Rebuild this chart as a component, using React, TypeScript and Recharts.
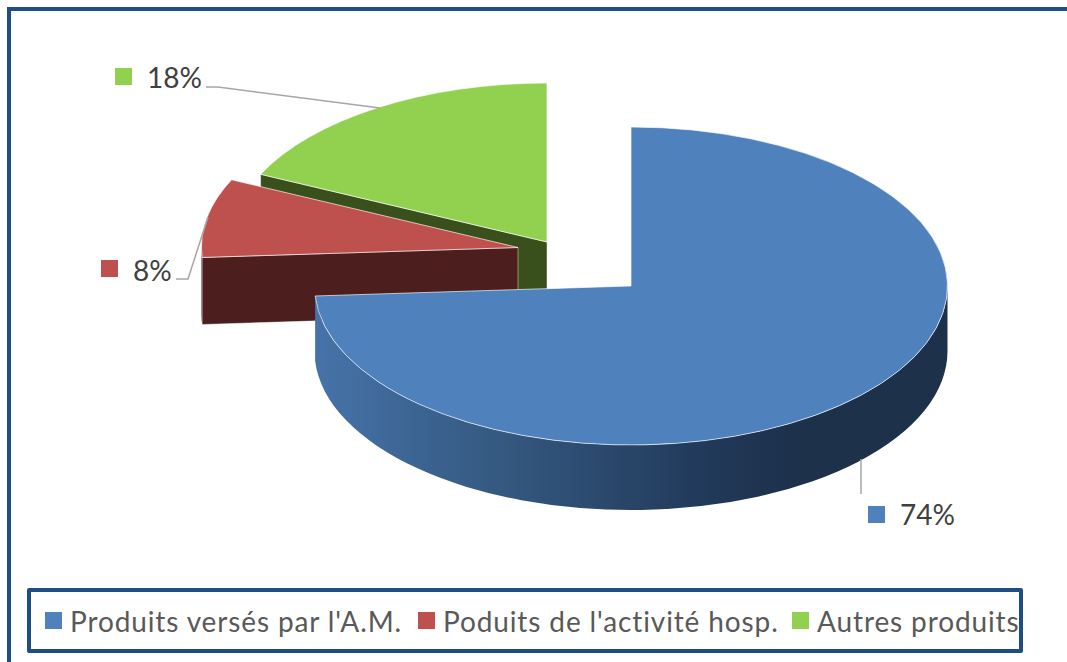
import React from "react";
import { PieChart, Pie, Legend } from "recharts";

const categories = ["Autres produits", "Poduits de l'activité hosp.", "Produits versés par l'A.M."];
const shares = [18, 8, 74];
const colors = ["#92D050", "#BE504D", "#4F81BD"];
const wallColors = ["#3A501C", "#4D1E1E", "url(#blueWall)"];

const rows = categories.map((name, i) => ({ name, value: shares[i], fill: colors[i] }));

const CX = 631, CY = 286, RX = 316.5, RY = 159;
const FRAME = "#1F4E85";
const FONT = "Lato, 'Open Sans', sans-serif";

// explosion offset and wall depth of each slice
const explode = [[-84, -44], [-113, -38.5], [0, 0]];
const depths = [65, 67, 65];
const labelLayout = [
  { sq: [115, 68], tx: 147, ty: 88, line: "206,87 218,87 380,108" },
  { sq: [101, 260], tx: 133, ty: 281, line: "176,279 188,279 208,217" },
  { sq: [868, 506], tx: 900, ty: 525, line: "861,459 861,494" },
];
const legendLeft = [792, 418, 45];

function SliceShape(props: any) {
  const { cx, cy, startAngle, endAngle, index, fill, name } = props;
  const i = index ?? categories.indexOf(name ?? props.payload?.name);
  const ox = cx + explode[i][0];
  const oy = cy + explode[i][1];
  const DEPTH = depths[i];
  const rad = (a: number) => (a * Math.PI) / 180;
  const px = (a: number) => ox + RX * Math.cos(rad(a));
  const py = (a: number) => oy - RY * Math.sin(rad(a));
  const large = endAngle - startAngle > 180 ? 1 : 0;
  const top = `M${ox},${oy} L${px(startAngle)},${py(startAngle)} A${RX},${RY} 0 ${large} 0 ${px(endAngle)},${py(endAngle)} Z`;
  const a1 = Math.max(startAngle, 180);
  const a2 = Math.min(endAngle, 360);
  const outerWall =
    a2 > a1
      ? `M${px(a1)},${py(a1)} A${RX},${RY} 0 0 0 ${px(a2)},${py(a2)} L${px(a2)},${py(a2) + DEPTH} A${RX},${RY} 0 0 1 ${px(a1)},${py(a1) + DEPTH} Z`
      : null;
  const cutWall = `M${ox},${oy} L${px(endAngle)},${py(endAngle)} L${px(endAngle)},${py(endAngle) + DEPTH} L${ox},${oy + DEPTH} Z`;
  const isBack = i < 2;
  return (
    <g>
      <defs>
        <linearGradient id="blueWall" gradientUnits="userSpaceOnUse" x1={CX - RX} y1="0" x2={CX + RX} y2="0">
          <stop offset="0" stopColor="#4673A9" />
          <stop offset="0.3" stopColor="#34587F" />
          <stop offset="0.62" stopColor="#21395A" />
          <stop offset="0.75" stopColor="#1D314B" />
          <stop offset="1" stopColor="#1D314B" />
        </linearGradient>
      </defs>
      {isBack && <path d={cutWall} fill={wallColors[i]} stroke="#fff" strokeOpacity={0.55} strokeWidth={0.8} />}
      {outerWall && <path d={outerWall} fill={wallColors[i]} />}
      <path d={top} fill={fill} stroke="#fff" strokeOpacity={0.65} strokeWidth={1} />
    </g>
  );
}

function SliceLabel(props: any) {
  const { index, percent, fill } = props;
  const l = labelLayout[index];
  return (
    <g>
      <polyline points={l.line} fill="none" stroke="#A6A6A6" strokeWidth={1.5} />
      <rect x={l.sq[0]} y={l.sq[1]} width={17} height={17} fill={fill} />
      <text x={l.tx} y={l.ty} fontFamily={FONT} fontSize={28} fill="#404040">
        {Math.round(percent * 100)}%
      </text>
    </g>
  );
}

function LegendBox(props: any) {
  const items = props.payload ?? [];
  return (
    <div
      style={{
        position: "relative",
        boxSizing: "border-box",
        width: 996,
        height: 65,
        border: `4px solid ${FRAME}`,
        borderRadius: 2,
        background: "#fff",
      }}
    >
      {items.map((it: any, i: number) => (
        <div
          key={it.value}
          style={{
            position: "absolute",
            left: legendLeft[i] - 31,
            top: 0,
            height: 57,
            display: "flex",
            alignItems: "center",
            whiteSpace: "nowrap",
            fontFamily: FONT,
            fontSize: 28,
            letterSpacing: 0.88,
            color: "#595959",
          }}
        >
          <span style={{ display: "inline-block", width: 17, height: 17, background: it.color ?? colors[i], marginRight: 8 }} />
          {it.value}
        </div>
      ))}
    </div>
  );
}

export default function App() {
  return (
    <div style={{ position: "absolute", left: 0, top: 0, width: 1067, height: 662, overflow: "hidden", background: "#fff" }}>
      <div
        style={{
          position: "absolute",
          left: 7,
          top: 7,
          width: 1067,
          height: 662,
          borderLeft: `4px solid ${FRAME}`,
          borderTop: `4px solid ${FRAME}`,
        }}
      />
      <div style={{ position: "absolute", left: 0, top: 0 }}>
        <PieChart width={1067} height={662} margin={{ top: 0, right: 0, bottom: 0, left: 0 }}>
          <Pie
            data={rows}
            dataKey="value"
            nameKey="name"
            cx={CX}
            cy={CY}
            innerRadius={0}
            outerRadius={RX}
            startAngle={90}
            endAngle={450}
            paddingAngle={0}
            stroke="none"
            isAnimationActive={false}
            shape={SliceShape}
            activeShape={SliceShape}
            inactiveShape={SliceShape}
            label={SliceLabel}
            labelLine={false}
          />
          <Legend
            content={LegendBox}
            itemSorter={null as any}
            wrapperStyle={{ position: "absolute", left: 27, top: 588, width: 996, height: 65 }}
          />
        </PieChart>
      </div>
    </div>
  );
}
